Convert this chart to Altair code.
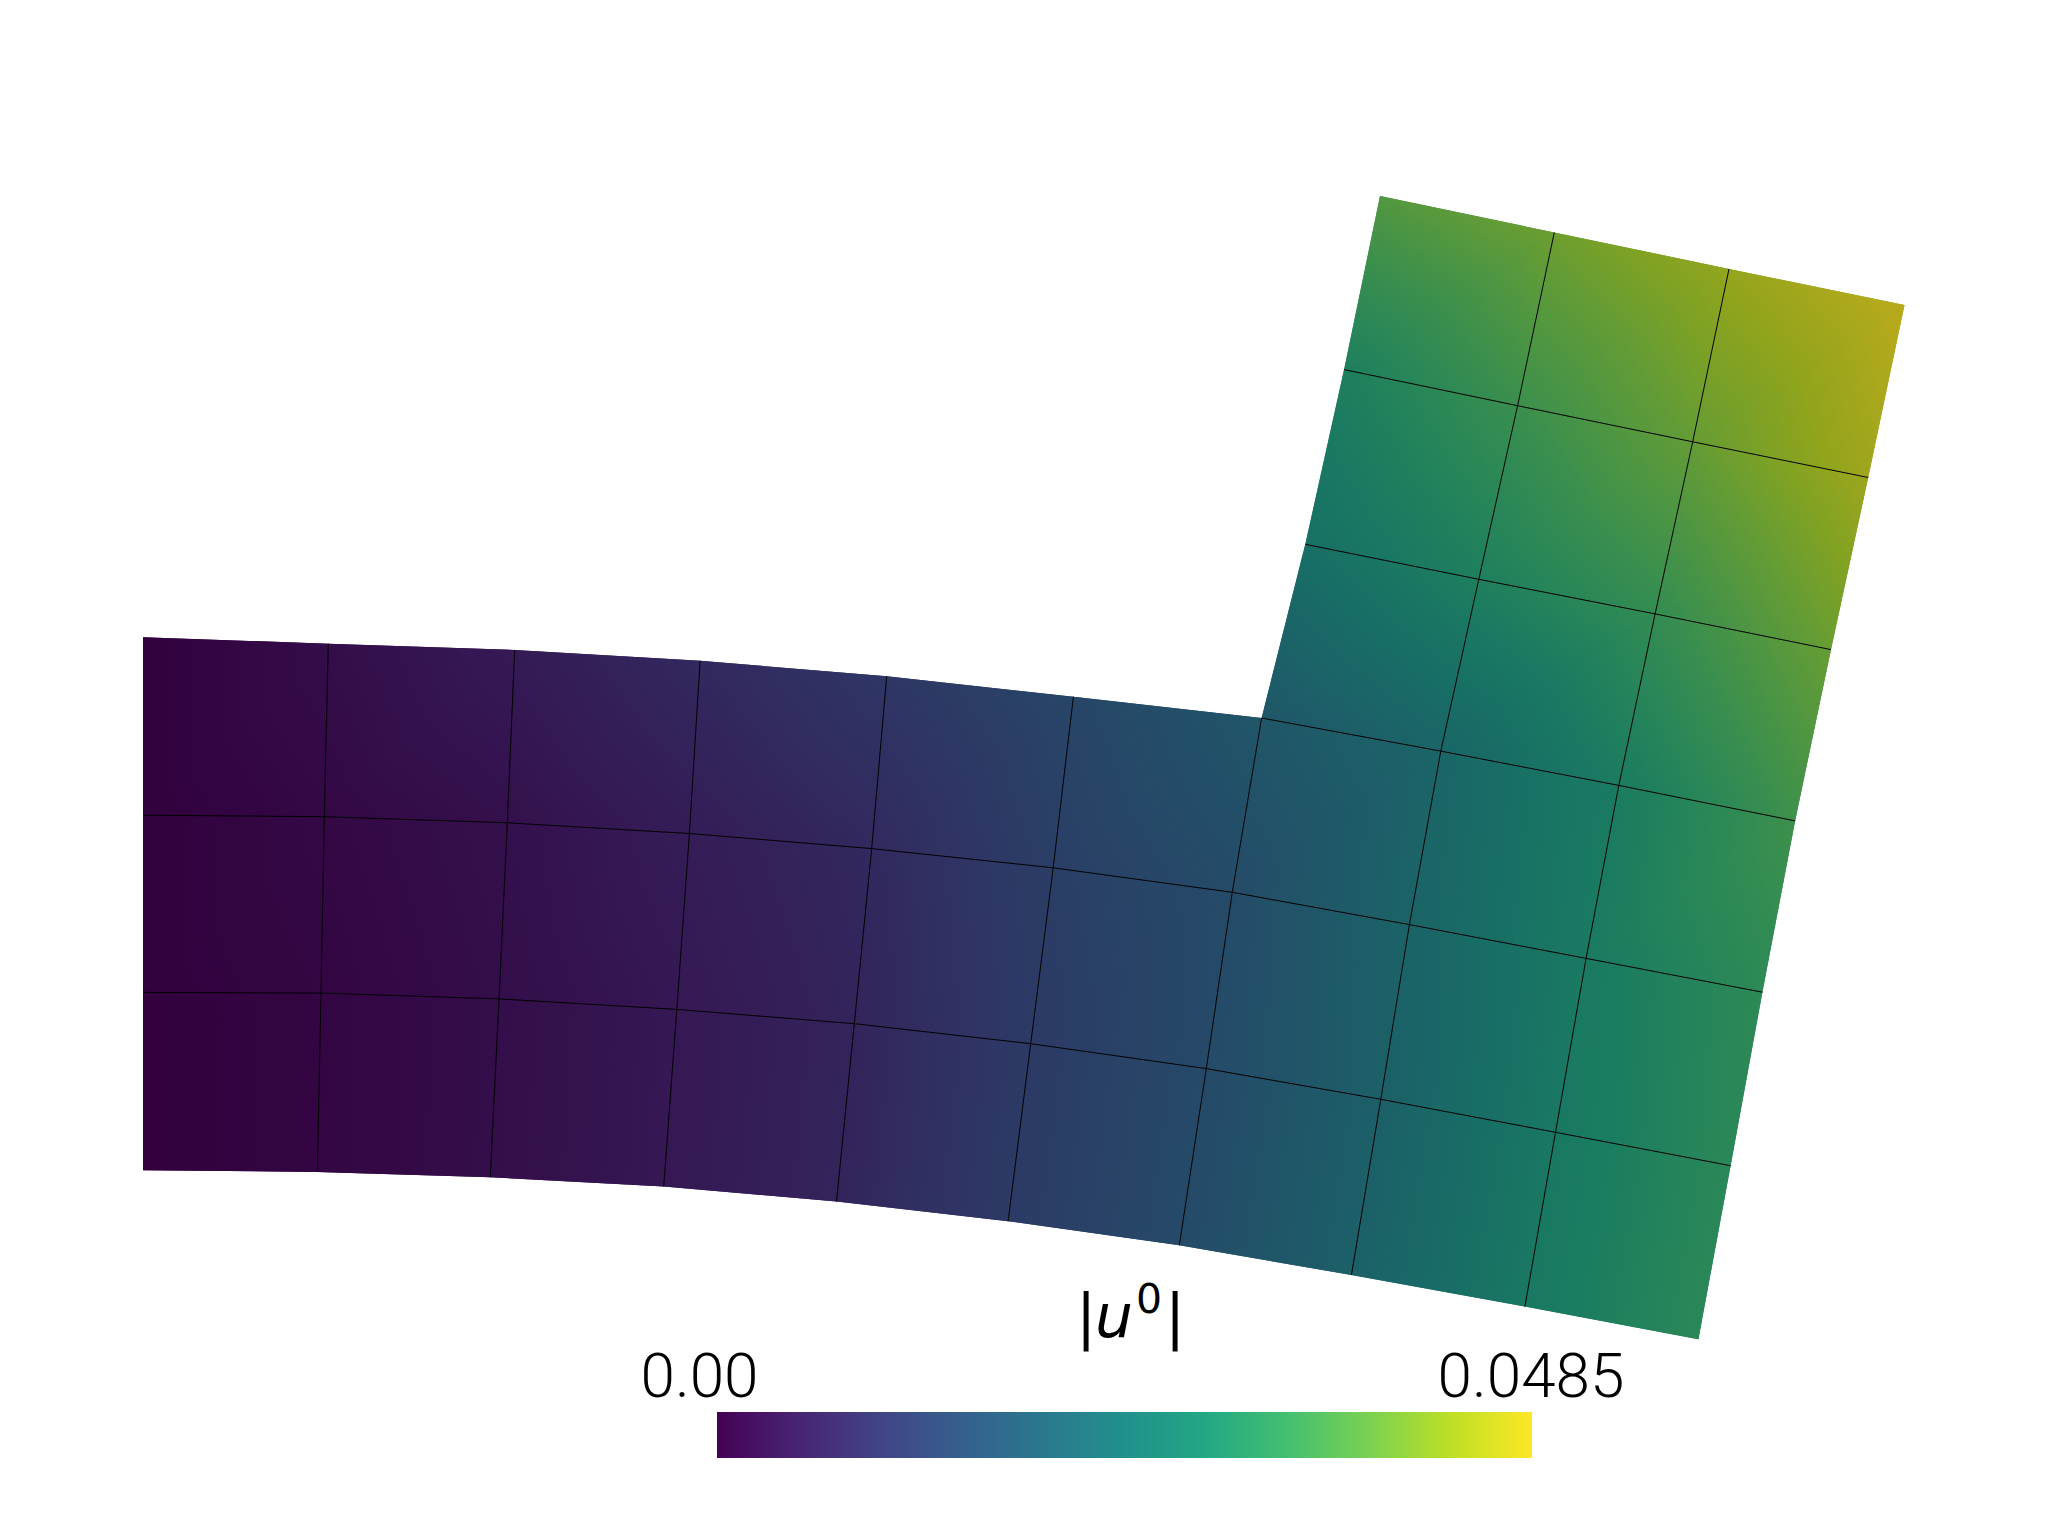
import altair as alt
import pandas as pd

# Mesh nodes of the L-shaped body (picture coordinates), 4 rows x 10 columns
LOW_X = [
    [143, 328.3, 514.7, 700.1, 886.7, 1073.4, 1261.6, 1440.8, 1618.8, 1795.1],
    [143, 324.3, 507.3, 689.4, 871.7, 1053.2, 1232.3, 1409.4, 1586.1, 1762.4],
    [143, 321.0, 499.0, 676.8, 854.3, 1030.7, 1206.3, 1380.8, 1555.5, 1730.6],
    [143, 317.3, 490.3, 663.7, 836.5, 1008.1, 1179.3, 1351.4, 1524.9, 1698.4],
]
LOW_Y = [
    [637.2, 643.7, 649.9, 660.8, 676.3, 696.7, 718.0, 751.1, 785.4, 820.9],
    [815.2, 816.7, 822.8, 833.5, 848.6, 867.8, 892.3, 924.6, 958.4, 992.2],
    [992.4, 993.1, 998.9, 1009.4, 1023.7, 1043.7, 1068.6, 1099.3, 1132.3, 1165.7],
    [1170.3, 1171.9, 1177.2, 1186.5, 1201.6, 1221.2, 1245.3, 1275.0, 1306.6, 1339.2],
]
# |u0| at the nodes, as a fraction of the 0.0485 maximum
LOW_T = [
    [0.00, 0.05, 0.10, 0.16, 0.22, 0.30, 0.39, 0.47, 0.60, 0.73],
    [0.00, 0.03, 0.06, 0.11, 0.16, 0.26, 0.33, 0.46, 0.59, 0.68],
    [0.00, 0.02, 0.05, 0.09, 0.14, 0.24, 0.32, 0.44, 0.58, 0.67],
    [0.00, 0.02, 0.05, 0.09, 0.14, 0.24, 0.32, 0.44, 0.58, 0.67],
]
# Upper arm: 3 further rows over the last four columns
UP_X = [
    [1380.0, 1554.3, 1729.0, 1904.5],
    [1344.1, 1517.6, 1692.7, 1868.2],
    [1305.3, 1478.8, 1655.1, 1831.0],
]
UP_Y = [
    [196.1, 232.5, 268.9, 305.0],
    [369.6, 405.7, 441.8, 477.5],
    [544.3, 579.3, 613.9, 649.6],
]
UP_T = [
    [0.78, 0.84, 0.92, 1.00],
    [0.62, 0.72, 0.82, 0.94],
    [0.53, 0.62, 0.70, 0.83],
]

VIRIDIS = ["#440154", "#482475", "#414487", "#355f8d", "#2a788e", "#21918c",
           "#22a884", "#44bf70", "#7ad151", "#bddf26", "#fde725"]
SHADE = 0.735

BAR_X, BAR_X2, BAR_Y, BAR_Y2 = 717, 1532, 1412, 1458
TICK_LABELS = ["0.00", "0.0485"]
TICK_X = [699.5, 1531]
TICK_Y = 1397
TITLE_PARTS = ["|", "u", "0", "|"]
TITLE_X = [1086, 1114, 1149, 1175]
TITLE_Y = [1337, 1337, 1313, 1337]
TITLE_SIZE = [60, 60, 41, 60]
TITLE_STYLE = ["normal", "italic", "normal", "normal"]


def rgb(h):
    return [int(h[k:k + 2], 16) for k in (1, 3, 5)]


def colour(t, shade=SHADE):
    t = min(max(t, 0), 1) * 10
    k = min(int(t), 9)
    f = t - k
    a, b = rgb(VIRIDIS[k]), rgb(VIRIDIS[k + 1])
    c = [round((a[n] + (b[n] - a[n]) * f) * shade) for n in range(3)]
    return "#%02x%02x%02x" % tuple(c)


def tri_fill(p):
    xs, ys, ts = zip(*p)
    x0, w = min(xs), max(xs) - min(xs)
    y0, h = min(ys), max(ys) - min(ys)
    u = [(x - x0) / w for x in xs]
    v = [(y - y0) / h for y in ys]
    du1, dv1, dt1 = u[1] - u[0], v[1] - v[0], ts[1] - ts[0]
    du2, dv2, dt2 = u[2] - u[0], v[2] - v[0], ts[2] - ts[0]
    det = du1 * dv2 - du2 * dv1
    b = (dt1 * dv2 - dt2 * dv1) / det
    c = (du1 * dt2 - du2 * dt1) / det
    n = b * b + c * c
    lo, hi = min(ts), max(ts)
    if n < 1e-9 or hi - lo < 1e-6:
        return colour(lo)
    k = ts.index(lo)
    sx, sy = u[k], v[k]
    s = (hi - lo) / n
    stops = [alt.GradientStop(color=colour(lo + (hi - lo) * o / 4), offset=o / 4)
             for o in range(5)]
    return alt.LinearGradient(gradient="linear", stops=stops, x1=sx, y1=sy,
                              x2=sx + b * s, y2=sy + c * s)


X = alt.X("x:Q", axis=None, scale=alt.Scale(domain=[8, 2040]))
Y = alt.Y("y:Q", axis=None, scale=alt.Scale(domain=[1528, 8]))

rows_x = UP_X + [r[6:] for r in LOW_X[:1]]
rows_y = UP_Y + [r[6:] for r in LOW_Y[:1]]
rows_t = UP_T + [r[6:] for r in LOW_T[:1]]
blocks = [(LOW_X, LOW_Y, LOW_T), (rows_x, rows_y, rows_t)]

layers = []


def polygon(p, fill):
    df = pd.DataFrame({"x": [q[0] for q in p] + [p[0][0]],
                       "y": [q[1] for q in p] + [p[0][1]]})
    df["i"] = range(len(df))
    return alt.Chart(df).mark_line(fill=fill, strokeWidth=0, strokeOpacity=0).encode(
        x=X, y=Y, order="i:Q")


for bx, by, bt in blocks:
    for r in range(len(bx) - 1):
        for c in range(len(bx[0]) - 1):
            n = lambda a, b: (bx[a][b], by[a][b], bt[a][b])
            A, B, C, D = n(r + 1, c), n(r + 1, c + 1), n(r, c + 1), n(r, c)
            # flat underlay so the seam between the two triangles does not show white
            layers.append(polygon([A, B, C, D], colour((A[2] + C[2]) / 2)))
            layers.append(polygon([A, B, C], tri_fill([A, B, C])))
            layers.append(polygon([A, C, D], tri_fill([A, C, D])))


def edge(xs, ys):
    df = pd.DataFrame({"x": xs, "y": ys, "i": range(len(xs))})
    return alt.Chart(df).mark_line(color="#000000", strokeWidth=1).encode(
        x=X, y=Y, order="i:Q")


# interior mesh lines
for r in (1, 2):
    layers.append(edge(LOW_X[r], LOW_Y[r]))
layers.append(edge(LOW_X[0][6:], LOW_Y[0][6:]))
for r in (1, 2):
    layers.append(edge(UP_X[r], UP_Y[r]))
for c in range(1, 7):
    layers.append(edge([row[c] for row in LOW_X], [row[c] for row in LOW_Y]))
for c in (7, 8):
    layers.append(edge([row[c - 6] for row in UP_X] + [row[c] for row in LOW_X],
                       [row[c - 6] for row in UP_Y] + [row[c] for row in LOW_Y]))

# colour bar
bar_fill = alt.LinearGradient(
    gradient="linear", x1=0, y1=0, x2=1, y2=0,
    stops=[alt.GradientStop(color=VIRIDIS[k], offset=k / 10) for k in range(11)])
layers.append(alt.Chart(pd.DataFrame({"x": [BAR_X], "x2": [BAR_X2], "y": [BAR_Y], "y2": [BAR_Y2]}))
              .mark_rect(fill=bar_fill)
              .encode(x=X, x2="x2:Q", y=Y, y2="y2:Q"))

for label, tx in zip(TICK_LABELS, TICK_X):
    layers.append(alt.Chart(pd.DataFrame({"x": [tx], "y": [TICK_Y], "t": [label]}))
                  .mark_text(font="Roboto", fontWeight=300, fontSize=62, align="center",
                             baseline="alphabetic", color="#000000")
                  .encode(x=X, y=Y, text="t:N"))

for part, tx, ty, ts, st in zip(TITLE_PARTS, TITLE_X, TITLE_Y, TITLE_SIZE, TITLE_STYLE):
    layers.append(alt.Chart(pd.DataFrame({"x": [tx], "y": [ty], "t": [part]}))
                  .mark_text(font="DejaVu Sans", fontSize=ts, fontStyle=st, align="center",
                             baseline="alphabetic", color="#000000")
                  .encode(x=X, y=Y, text="t:N"))

chart = alt.layer(*layers).properties(
    width=2032, height=1520, padding=0, background="#ffffff",
    autosize=alt.AutoSizeParams(type="none"),
).configure_view(stroke=None)

chart.save("out.html", embed_options={"renderer": "svg", "actions": False})
